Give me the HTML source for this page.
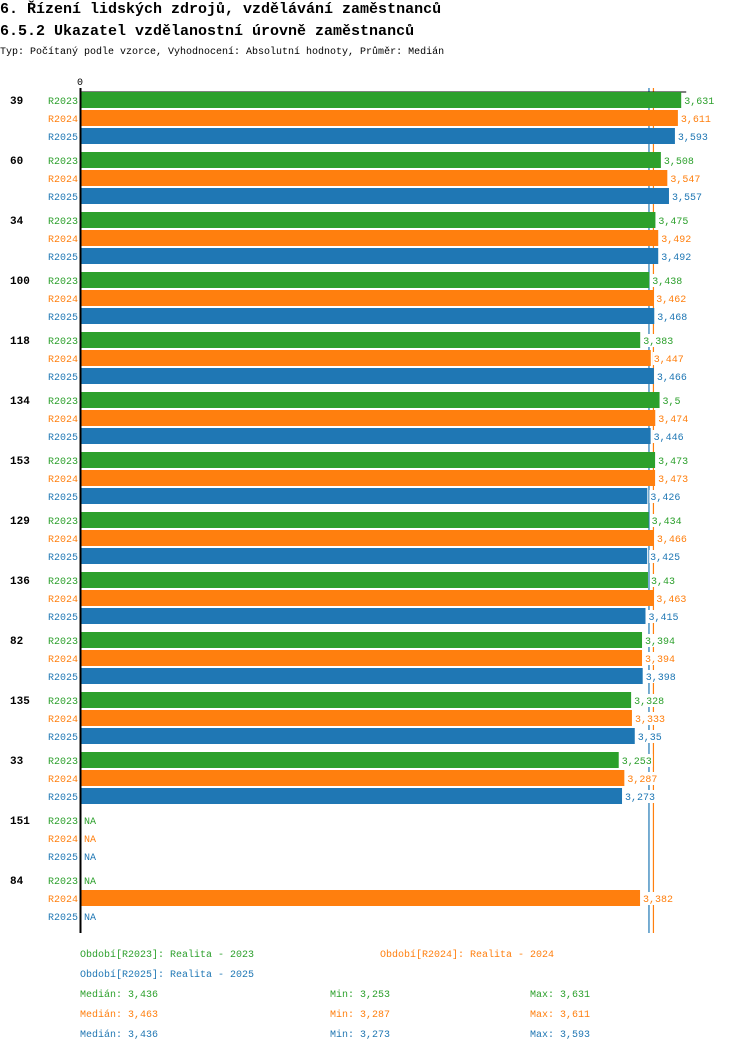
<!DOCTYPE html>
<html><head><meta charset="utf-8">
<style>
html,body{margin:0;padding:0;background:#fff;width:750px;height:1052px;overflow:hidden}
svg{display:block}
text{font-family:"Liberation Mono","DejaVu Sans Mono",monospace}
</style></head>
<body>
<svg id="chart" width="750" height="1052" xmlns="http://www.w3.org/2000/svg">
<text x="0" y="13" font-size="15" font-weight="bold">6. Řízení lidských zdrojů, vzdělávání zaměstnanců</text>
<text x="0" y="35" font-size="15" font-weight="bold">6.5.2 Ukazatel vzdělanostní úrovně zaměstnanců</text>
<text x="0" y="54" font-size="10">Typ: Počítaný podle vzorce, Vyhodnocení: Absolutní hodnoty, Průměr: Medián</text>
<text x="77" y="85" font-size="10">0</text>
<g id="bars"></g>
<g id="legend">
<text x="80" y="957" font-size="10" fill="#2ca02c">Období[R2023]: Realita - 2023</text>
<text x="380" y="957" font-size="10" fill="#ff7f0e">Období[R2024]: Realita - 2024</text>
<text x="80" y="977" font-size="10" fill="#1f77b4">Období[R2025]: Realita - 2025</text>
</g>
</svg>
<script>
const categories = ["39","60","34","100","118","134","153","129","136","82","135","33","151","84"];
const seriesNames = ["R2023","R2024","R2025"];
const r2023 = [3.631,3.508,3.475,3.438,3.383,3.5,3.473,3.434,3.43,3.394,3.328,3.253,null,null];
const r2024 = [3.611,3.547,3.492,3.462,3.447,3.474,3.473,3.466,3.463,3.394,3.333,3.287,null,3.382];
const r2025 = [3.593,3.557,3.492,3.468,3.466,3.446,3.426,3.425,3.415,3.398,3.35,3.273,null,null];
const medians = [3.436,3.463,3.436];
const mins = [3.253,3.287,3.273];
const maxs = [3.631,3.611,3.593];
const colors = ["#2ca02c","#ff7f0e","#1f77b4"];
const NS = "http://www.w3.org/2000/svg";
const x0 = 81, pxPerUnit = 165.3;
function xs(v){ return x0 + v * pxPerUnit; }
function yGroup(i){ return 92 + i * 60; }
function fmt(v){ return String(v).replace('.', ','); }
function mk(tag, attrs, parent, txt){
  const e = document.createElementNS(NS, tag);
  for (const k in attrs) e.setAttribute(k, attrs[k]);
  if (txt !== undefined) e.textContent = txt;
  parent.appendChild(e); return e;
}
const barsG = document.getElementById('bars');
const seriesAll = [r2023, r2024, r2025];
[2,1].forEach(j => {
  const ml = mk('line', {x1:xs(medians[j]), y1:88, x2:xs(medians[j]), y2:933, stroke:colors[j], 'stroke-width':1.2}, barsG);
  
  
});
const topLine = mk('line', {x1:80, y1:92, x2:xs(Math.max(...maxs))+5, y2:92, stroke:'#000', 'stroke-width':1}, barsG);


categories.forEach((c, i) => {
  const gy = yGroup(i);
  const lab = mk('text', {x:10, y:gy+12, 'font-size':11, 'font-weight':'bold'}, barsG, c);
  
  
  seriesAll.forEach((s, j) => {
    const y = gy + j * 18;
    const sl = mk('text', {x:78, y:y+12, 'font-size':10, fill:colors[j], 'text-anchor':'end'}, barsG, seriesNames[j]);
    
    
    const v = s[i];
    if (v === null) {
      const nb = mk('rect', {x:83, y:y+2, width:14, height:13, fill:'#fff'}, barsG);
      
      
      const na = mk('text', {x:84, y:y+12, 'font-size':10, fill:colors[j]}, barsG, 'NA');
      
      
    } else {
      const r = mk('rect', {x:x0, y:y, width:xs(v)-x0, height:16, fill:colors[j]}, barsG);
      
      
      const t = fmt(v);
      const bg = mk('rect', {x:xs(v)+2, y:y+2, width:t.length*6+2, height:13, fill:'#fff'}, barsG);
      
      
      const vl = mk('text', {x:xs(v)+3, y:y+12, 'font-size':10, fill:colors[j]}, barsG, t);
      
      
    }
  });
});
const ax = mk('line', {x1:80.5, y1:88, x2:80.5, y2:933, stroke:'#000', 'stroke-width':2}, barsG);


const legG = document.getElementById('legend');
seriesAll.forEach((s, j) => {
  const y = 997 + j * 20;
  const a = mk('text', {x:80, y:y, 'font-size':10, fill:colors[j]}, legG, 'Medián: ' + fmt(medians[j]));
  
  
  const b = mk('text', {x:330, y:y, 'font-size':10, fill:colors[j]}, legG, 'Min: ' + fmt(mins[j]));
  
  
  const d = mk('text', {x:530, y:y, 'font-size':10, fill:colors[j]}, legG, 'Max: ' + fmt(maxs[j]));
  
  
});
</script>
</body></html>
